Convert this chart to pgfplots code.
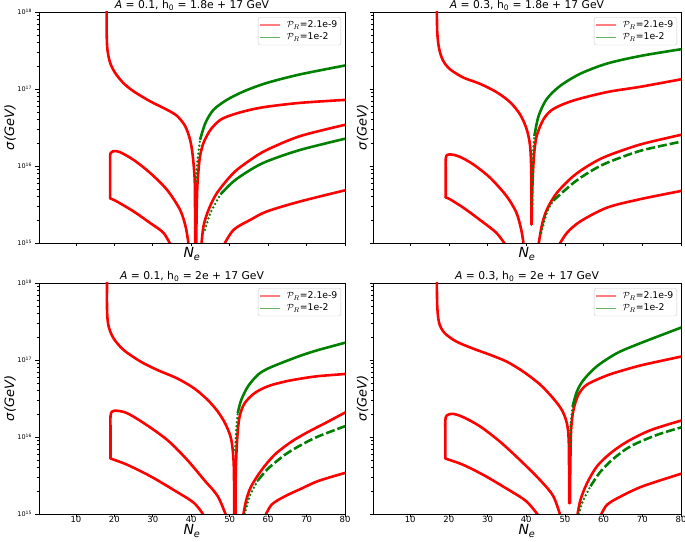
\documentclass[border=0pt]{standalone}
\usepackage{fontspec}
\setmainfont{DejaVu Sans}
\usepackage{pgfplots}
\pgfplotsset{compat=1.18}
\definecolor{mplgreen}{RGB}{0,128,0}
\pgfplotsset{legend image code/.code={\draw[#1] (0bp,0bp) -- (20bp,0bp);}}
\pgfplotsset{
  chartpanel/.style={
    scale only axis, height=231bp,
    xmin=0.4, xmax=80, ymin=1e15, ymax=1e18,
    xtick={10,20,30,40,50,60,70,80},
    ytick={1e15,1e16,1e17,1e18},
    minor ytick={2e15,3e15,4e15,5e15,6e15,7e15,8e15,9e15,2e16,3e16,4e16,5e16,6e16,7e16,8e16,9e16,2e17,3e17,4e17,5e17,6e17,7e17,8e17,9e17},
    tick align=outside, xtick pos=bottom, ytick pos=left,
    major tick length=3.5bp, minor tick length=2bp,
    every tick/.append style={black, line width=0.6pt},
    axis line style={line width=0.8pt},
    xticklabel style={font=\fontsize{8.5}{10}\selectfont, inner sep=0pt, yshift=1.5bp},
    yticklabel style={font=\fontsize{6.5}{7}\selectfont},
    title style={font=\fontsize{10.8}{12}\selectfont, at={(0.5,1)}, anchor=south, yshift=-6pt, inner sep=1.5bp},
    xlabel style={font=\fontsize{14}{16}\selectfont, at={(axis description cs:0.5,0)}, anchor=north, inner sep=0pt},
    ylabel style={font=\fontsize{13}{15}\selectfont, at={(axis description cs:0,0.5)}, anchor=south, inner sep=0pt},
    xlabel={\itshape N\textsubscript{e}},
    ylabel={\itshape σ(GeV)},
    legend style={at={(0.987,0.978)}, anchor=north east, draw=black!20, rounded corners=2pt,
      font=\fontsize{9.3}{11}\selectfont, inner sep=1.5pt, row sep=0pt, column sep=4bp},
    legend cell align=left},
  toprow/.style={xticklabels={}, xlabel style={yshift=-4.5bp}},
  botrow/.style={xticklabels={10,20,30,40,50,60,70,80}, xlabel style={yshift=-10.5bp}},
  leftcol/.style={width=306bp,
    yticklabels={10\textsuperscript{15},10\textsuperscript{16},10\textsuperscript{17},10\textsuperscript{18}},
    ylabel style={yshift=23bp}},
  rightcol/.style={width=308bp, yticklabels={}, ylabel style={yshift=4.5bp}},
  rc/.style={red, line width=2.6pt, smooth, line join=round, line cap=round, forget plot, mark=none},
  gc/.style={mplgreen, line width=2.6pt, smooth, line join=round, forget plot, mark=none},
  gdot/.style={gc, line cap=round, dash pattern=on 0pt off 4pt},
  gdash/.style={gc, dash pattern=on 9pt off 3pt},
}
\newcommand{\leg}{%
  \addlegendimage{red, opacity=0.5, line width=1.3pt}
  \addlegendentry{$\mathcal{P}_R$=2.1e-9}
  \addlegendimage{mplgreen, opacity=0.6, line width=1.3pt}
  \addlegendentry{$\mathcal{P}_R$=1e-2}}
\begin{document}
\begin{tikzpicture}
\path[use as bounding box] (0bp,0bp) rectangle (685bp,542bp);
% ---------------- top left
\begin{semilogyaxis}[chartpanel, toprow, leftcol, at={(39bp,299bp)}, anchor=south west,
  title={{\itshape A} = 0.1, h\textsubscript{0} = 1.8e + 17 GeV}]
\leg
\addplot[rc] coordinates {(18.0,1.26e18) (18.0,5.37e17) (18.2,3.24e17) (18.9,2.19e17) (20.2,1.62e17) (22.3,1.20e17) (25.0,9.33e16) (29.3,6.92e16) (33.7,5.37e16) (36.3,4.47e16) (38.4,3.31e16) (39.7,2.19e16) (40.4,1.35e16) (40.9,6.61e15) (41.0,2.51e15) (41.05,8.9e14)};
\addplot[rc] coordinates {(41.3,8.9e14) (41.4,2.51e15) (41.6,5.62e15) (41.9,8.91e15) (42.3,1.35e16) (43.2,2.00e16) (45.0,2.95e16) (47.6,3.98e16) (51.0,4.68e16) (55.4,5.37e16) (59.7,5.89e16) (68.4,6.61e16) (80.5,7.24e16)};
\addplot[rc] coordinates {(34.9,8.9e14) (32.8,1.35e15) (29.3,1.82e15) (25.0,2.57e15) (20.6,3.47e15) (18.9,3.80e15)};
\addplot[rc] coordinates {(18.9,3.80e15) (18.9,8e15) (18.9,1.35e16) (19.1,1.48e16) (19.6,1.55e16) (20.2,1.56e16) (21.5,1.51e16) (25.0,1.20e16) (29.3,8.13e15) (33.7,4.90e15) (37.1,2.69e15) (38.6,1.58e15) (39.4,8.9e14)};
\addplot[rc] coordinates {(42.6,8.9e14) (43.2,1.66e15) (44.5,2.69e15) (46.7,4.47e15) (51.0,8.13e15) (55.4,1.20e16) (59.7,1.62e16) (68.4,2.45e16) (80.5,3.47e16)};
\addplot[rc] coordinates {(48.2,8.9e14) (51.0,1.48e15) (55.4,2.00e15) (59.7,2.57e15) (68.4,3.47e15) (80.5,4.90e15)};
\addplot[gdot] coordinates {(41.2,6.31e15) (41.5,1.0e16) (41.8,1.41e16) (42.3,2.19e16)};
\addplot[gc] coordinates {(42.3,2.19e16) (43.7,3.63e16) (45.8,5.37e16) (49.3,7.24e16) (53.7,9.33e16) (59.7,1.20e17) (68.4,1.55e17) (80.5,2.04e17)};
\addplot[gdot] coordinates {(43.6,1.48e15) (45.0,2.45e15) (47.6,4.27e15)};
\addplot[gc] coordinates {(47.6,4.27e15) (51.0,6.31e15) (55.4,8.91e15) (59.7,1.15e16) (68.4,1.62e16) (80.5,2.29e16)};
\end{semilogyaxis}
% ---------------- top right
\begin{semilogyaxis}[chartpanel, toprow, rightcol, at={(373bp,299bp)}, anchor=south west,
  title={{\itshape A} = 0.3, h\textsubscript{0} = 1.8e + 17 GeV}]
\leg
\addplot[rc] coordinates {(16.9,1.26e18) (17.0,5.50e17) (17.5,3.31e17) (18.5,2.34e17) (20.2,1.82e17) (23.7,1.41e17) (28.0,1.17e17) (32.3,9.12e16) (35.8,6.76e16) (38.4,4.68e16) (40.1,3.02e16) (41.0,1.82e16) (41.3,8.13e15) (41.35,1.74e15)};
\addplot[rc] coordinates {(41.4,1.74e15) (41.6,5.50e15) (42.0,1.35e16) (42.7,2.45e16) (44.5,4.07e16) (47.0,5.50e16) (52.2,7.08e16) (60.9,9.12e16) (69.6,1.07e17) (80.5,1.35e17)};
\addplot[rc] coordinates {(35.0,8.9e14) (32.3,1.35e15) (28.0,2.00e15) (23.7,2.88e15) (20.2,3.72e15) (19.2,3.89e15)};
\addplot[rc] coordinates {(19.2,3.89e15) (19.2,8e15) (19.2,1.23e16) (19.5,1.38e16) (20.6,1.41e16) (22.8,1.32e16) (26.3,1.05e16) (30.6,7.08e15) (34.9,4.07e15) (37.5,2.45e15) (38.8,1.41e15) (39.4,8.9e14)};
\addplot[rc] coordinates {(43.1,8.9e14) (44.0,1.66e15) (45.3,2.69e15) (47.9,4.47e15) (52.2,7.41e15) (56.6,1.05e16) (60.9,1.35e16) (69.6,1.91e16) (80.5,2.57e16)};
\addplot[rc] coordinates {(48.2,8.9e14) (50.5,1.35e15) (54.0,1.91e15) (60.9,2.88e15) (69.6,3.72e15) (80.5,4.79e15)};
\addplot[gdot] coordinates {(41.4,3.02e15) (41.7,1.23e16) (42.1,2.45e16)};
\addplot[gc] coordinates {(42.1,2.45e16) (43.2,4.47e16) (45.3,7.41e16) (48.8,1.10e17) (54.0,1.58e17) (60.9,2.14e17) (69.6,2.69e17) (80.5,3.31e17)};
\addplot[gdot] coordinates {(43.9,1.35e15) (45.3,2.45e15) (47.0,3.55e15)};
\addplot[gdash] coordinates {(47.0,3.55e15) (52.2,6.03e15) (56.6,8.51e15) (60.9,1.10e16) (69.6,1.58e16) (80.5,2.09e16)};
\end{semilogyaxis}
% ---------------- bottom left
\begin{semilogyaxis}[chartpanel, botrow, leftcol, at={(39bp,28bp)}, anchor=south west,
  title={{\itshape A} = 0.1, h\textsubscript{0} = 2e + 17 GeV}]
\leg
\addplot[rc] coordinates {(18.1,1.26e18) (18.1,4.47e17) (18.5,2.75e17) (19.8,1.91e17) (22.4,1.35e17) (26.8,9.55e16) (31.2,7.41e16) (36.4,5.75e16) (40.8,4.27e16) (44.3,3.02e16) (46.9,2.14e16) (48.8,1.51e16) (50.2,1.02e16) (50.8,6.76e15) (51.1,3.72e15) (51.2,8.9e14)};
\addplot[rc] coordinates {(51.5,8.9e14) (51.6,3.72e15) (52.0,1.02e16) (52.6,1.86e16) (53.9,2.75e16) (56.5,3.72e16) (60.0,4.57e16) (64.4,5.25e16) (68.7,5.75e16) (73.1,6.17e16) (80.5,6.61e16)};
\addplot[rc] coordinates {(43.7,8.9e14) (40.8,1.38e15) (35.5,2.04e15) (29.4,3.09e15) (23.3,4.37e15) (19.0,5.25e15)};
\addplot[rc] coordinates {(19.0,5.25e15) (19.0,1.2e16) (19.0,1.86e16) (19.4,2.14e16) (20.7,2.19e16) (23.3,2.04e16) (27.7,1.51e16) (33.8,9.12e15) (39.0,5.01e15) (43.4,2.75e15) (46.9,1.70e15) (49.3,8.9e14)};
\addplot[rc] coordinates {(53.4,8.9e14) (54.3,1.51e15) (55.6,2.29e15) (58.3,3.72e15) (61.7,5.89e15) (66.1,8.71e15) (70.5,1.17e16) (74.8,1.51e16) (80.5,2.14e16)};
\addplot[rc] coordinates {(59.0,8.9e14) (60.9,1.32e15) (64.4,1.70e15) (68.7,2.14e15) (73.1,2.69e15) (80.5,3.47e15)};
\addplot[gdot] coordinates {(51.4,6.76e15) (51.7,1.23e16) (52.1,2.04e16)};
\addplot[gc] coordinates {(52.1,2.04e16) (53.0,3.02e16) (54.8,4.57e16) (57.4,6.46e16) (60.0,7.76e16) (64.4,9.55e16) (68.7,1.15e17) (73.1,1.35e17) (80.5,1.70e17)};
\addplot[gdot] coordinates {(53.7,8.9e14) (55.2,1.70e15) (57.4,2.75e15)};
\addplot[gdash] coordinates {(57.4,2.75e15) (60.0,3.89e15) (64.4,5.89e15) (68.7,7.94e15) (73.1,1.02e16) (80.5,1.41e16)};
\end{semilogyaxis}
% ---------------- bottom right
\begin{semilogyaxis}[chartpanel, botrow, rightcol, at={(373bp,28bp)}, anchor=south west,
  title={{\itshape A} = 0.3, h\textsubscript{0} = 2e + 17 GeV}]
\leg
\addplot[rc] coordinates {(16.9,1.26e18) (17.0,5.01e17) (17.5,3.02e17) (18.9,2.24e17) (21.9,1.74e17) (26.2,1.41e17) (30.6,1.17e17) (34.9,9.55e16) (39.2,7.08e16) (43.6,4.79e16) (47.0,3.16e16) (49.2,2.24e16) (50.5,1.51e16) (51.0,8.32e15) (51.1,1.38e15)};
\addplot[rc] coordinates {(51.3,1.38e15) (51.4,4.57e15) (51.6,1.23e16) (52.2,2.24e16) (53.5,3.55e16) (55.7,4.79e16) (60.9,6.31e16) (65.3,7.41e16) (69.6,8.51e16) (75.0,9.77e16) (80.5,1.12e17)};
\addplot[rc] coordinates {(43.6,8.9e14) (40.1,1.45e15) (34.9,2.14e15) (28.8,3.24e15) (23.6,4.37e15) (19.1,5.25e15)};
\addplot[rc] coordinates {(19.1,5.25e15) (19.1,1.1e16) (19.1,1.66e16) (19.5,1.91e16) (21.0,2.00e16) (23.6,1.82e16) (28.0,1.38e16) (33.2,8.71e15) (38.4,5.01e15) (43.6,2.75e15) (47.0,1.70e15) (49.0,8.9e14)};
\addplot[rc] coordinates {(53.1,8.9e14) (54.0,1.51e15) (55.7,2.51e15) (58.3,4.17e15) (61.8,6.17e15) (66.1,8.71e15) (72.2,1.23e16) (80.5,1.66e16)};
\addplot[rc] coordinates {(59.0,8.9e14) (60.9,1.32e15) (65.3,1.78e15) (69.6,2.24e15) (74.8,2.75e15) (80.5,3.39e15)};
\addplot[gdot] coordinates {(51.2,7.59e15) (51.5,1.51e16) (52.0,2.51e16)};
\addplot[gc] coordinates {(52.0,2.51e16) (53.1,3.89e16) (54.8,5.50e16) (58.3,8.32e16) (63.5,1.23e17) (69.6,1.66e17) (80.5,2.69e17)};
\addplot[gdot] coordinates {(53.4,8.9e14) (54.4,1.38e15) (56.6,2.29e15)};
\addplot[gdash] coordinates {(56.6,2.29e15) (59.2,3.55e15) (62.6,5.25e15) (67.0,7.59e15) (73.9,1.07e16) (80.5,1.35e16)};
\end{semilogyaxis}
\end{tikzpicture}
\end{document}
